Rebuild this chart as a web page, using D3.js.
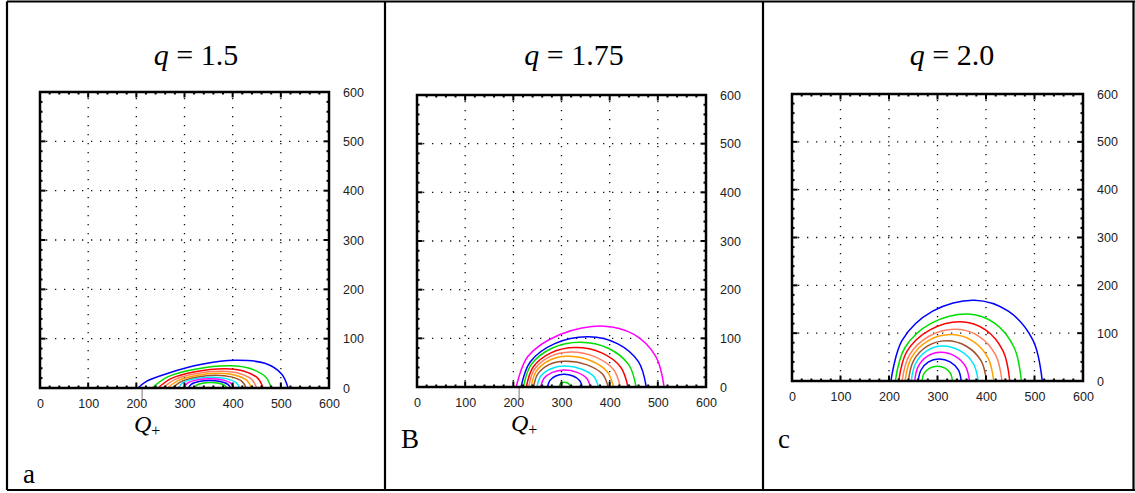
<!DOCTYPE html>
<html><head><meta charset="utf-8">
<script src="https://cdn.jsdelivr.net/npm/d3@7"></script>
<style>
body{margin:0;background:#fff;}
svg{display:block;}
</style></head><body>
<svg id="chart" width="1135" height="493"></svg>
<script>
// ---------- data ----------
const xTicks = [0, 100, 200, 300, 400, 500, 600];
const yTicks = [0, 100, 200, 300, 400, 500, 600];
const minorStep = 20;
const gridValues = [100, 200, 300, 400, 500];
const panelTitles = ["1.5", "1.75", "2.0"];
const panelLetters = ["a", "B", "c"];
const leaderValue = 212;

const colorsA = ["blue","green","red","salmon","orange","brown","cyan","magenta","blue","green"];
const curvesA = [
  [[204,0],[220,13],[266,30],[336,48],[405,56],[467,50],[502,28],[515,0]],
  [[233,0],[265,22.5],[322,38],[395,45],[437.5,39],[468.6,22.5],[480,0]],
  [[245,0],[273,19.5],[322,33],[385,39],[424,34],[452.5,19.5],[463,0]],
  [[255,0],[279.6,17],[322.7,29],[378,34],[414,29.5],[440,17],[450,0]],
  [[265,0],[286.4,15],[324,25.5],[372,30],[405.5,26],[430,15],[439,0]],
  [[275,0],[293,13],[325,22],[366,26],[397,22.5],[419.7,13],[428,0]],
  [[287,0],[296.5,11],[322.5,19],[358,22],[386.5,19],[407,11],[415,0]],
  [[298,0],[305.5,9.5],[326,16.5],[354,19],[378.5,16.5],[396.4,9.5],[403,0]],
  [[308,0],[314,7.5],[330,13],[352,15],[374,13],[390,7.5],[396,0]],
  [[320,0],[324.6,5.5],[337,9.5],[354,11],[371,9.5],[383.4,5.5],[388,0]]
];

const colorsB = ["magenta","blue","green","red","salmon","orange","brown","cyan","magenta","blue","green"];
const curvesB = [
  [[206,0],[230,62.5],[297,108],[388,125],[450.5,108],[496,62.5],[513,0]],
  [[216,0],[235,51.5],[286,89],[356,103],[416,89],[460,51.5],[476,0]],
  [[221,0],[237,46],[280,79.7],[339,92],[397,79.7],[439.5,46],[455,0]],
  [[227,0],[241,40.5],[278,70],[329,81],[383.5,70],[423,40.5],[438,0]],
  [[232,0],[243.5,36],[275,62],[318,72],[370,62],[408,36],[422,0]],
  [[237,0],[247,31.5],[274,54.5],[311,63],[359.5,54.5],[395,31.5],[408,0]],
  [[242,0],[250.6,26.5],[274,46],[306,53],[351.5,46],[385,26.5],[397,0]],
  [[249,0],[256.5,21.5],[277,37],[305,43],[341,37],[367,21.5],[377,0]],
  [[257,0],[263.4,17.5],[281,30],[305,35],[332.5,30],[352.6,17.5],[360,0]],
  [[271,0],[275.6,13],[288,22.5],[305,26],[324,22.5],[338,13],[343,0]],
  [[295,0],[296.5,5],[300.5,8.7],[306,10],[312,8.7],[316.4,5],[318,0]]
];

const colorsC = ["blue","green","red","salmon","orange","brown","cyan","magenta","blue","green"];
const curvesC = [
  [[204,0],[227,85],[290,146],[376,169],[446,146],[497,85],[516,0]],
  [[213,0],[233,70],[287.5,121],[362,140],[417.5,121],[458,70],[473,0]],
  [[220,0],[237,62],[284.5,107],[349,124],[399,107],[435.6,62],[449,0]],
  [[227,0],[242,54],[282.5,93.5],[338,108],[385.5,93.5],[420,54],[433,0]],
  [[233,0],[246,48.5],[280.5,84],[328,97],[372,84],[404,48.5],[416,0]],
  [[240,0],[250.5,42],[279,72.7],[318,84],[359.5,72.7],[390,42],[401,0]],
  [[246,0],[254.6,36.5],[278,63],[310,73],[347,63],[374,36.5],[384,0]],
  [[253,0],[260,30],[279.5,52],[306,60],[336,52],[358,30],[366,0]],
  [[260,0],[266,23],[281.5,40],[303,46],[326,40],[343,23],[349,0]],
  [[268,0],[272,15.5],[284,27],[300,31],[315.5,27],[327,15.5],[331,0]]
];

// ---------- styling / layout ----------
const palette = {
  blue:"#0000ff", green:"#00dd00", red:"#ff0000", salmon:"#ff8060",
  orange:"#ffa000", brown:"#a0522d", cyan:"#00e8ff", magenta:"#ff00ff"
};

const panels = [
  {box:[40,329,92,388],  cx:196, letter:[23,483], qlabel:true,  curves:curvesA, colors:colorsA, title:panelTitles[0], letterText:panelLetters[0]},
  {box:[417,706,95,387], cx:574, letter:[401,448], qlabel:true,  curves:curvesB, colors:colorsB, title:panelTitles[1], letterText:panelLetters[1]},
  {box:[792,1083,94,381],cx:952, letter:[778,448], qlabel:false, curves:curvesC, colors:colorsC, title:panelTitles[2], letterText:panelLetters[2]}
];

const svg = d3.select("#chart");

// outer frame
const frame = svg.append("g").attr("stroke","#000").attr("stroke-width",2.2);
frame.append("line").attr("x1",7).attr("x2",1135).attr("y1",1.5).attr("y2",1.5);
frame.append("line").attr("x1",7).attr("x2",1135).attr("y1",490).attr("y2",490);
frame.append("line").attr("x1",7).attr("x2",7).attr("y1",1.5).attr("y2",490);
frame.append("line").attr("x1",385).attr("x2",385).attr("y1",1.5).attr("y2",490);
frame.append("line").attr("x1",763).attr("x2",763).attr("y1",1.5).attr("y2",490);
frame.append("line").attr("x1",1133.5).attr("x2",1133.5).attr("y1",1.5).attr("y2",490);

const minorVals = d3.range(0, 601, minorStep);

panels.forEach(p => {
  const [L, R, T, B] = p.box;
  const x = d3.scaleLinear().domain([0, 600]).range([L, R]);
  const y = d3.scaleLinear().domain([0, 600]).range([B, T]);
  const g = svg.append("g");

  // dotted grid
  const grid = g.append("g").attr("stroke","#111").attr("stroke-width",1.3)
    .attr("stroke-dasharray","1.3,7.7");
  grid.selectAll(".gx").data(gridValues).join("line")
    .attr("x1", d => x(d)).attr("x2", d => x(d)).attr("y1", T + 6).attr("y2", B);
  grid.selectAll(".gy").data(gridValues).join("line")
    .attr("y1", d => y(d)).attr("y2", d => y(d)).attr("x1", L + 6).attr("x2", R);

  // curves
  const line = d3.line().x(d => x(d[0])).y(d => y(d[1])).curve(d3.curveCatmullRom.alpha(0.5));
  g.append("g").selectAll("path").data(p.curves).join("path")
    .attr("d", line).attr("fill","none")
    .attr("stroke", (d,i) => palette[p.colors[i]]).attr("stroke-width",1.5);

  // leader line below axis
  if (p.qlabel) {
    g.append("line").attr("x1", x(leaderValue)).attr("x2", x(leaderValue))
      .attr("y1", B).attr("y2", B + 12).attr("stroke","#777").attr("stroke-width",1);
  }

  // ticks on all four sides (inward)
  const tk = g.append("g").attr("stroke","#000").attr("stroke-width",2);
  const len = v => (v % 100 === 0 ? 5.5 : 2.5);
  tk.selectAll(".tb").data(minorVals).join("line")
    .attr("x1", d => x(d)).attr("x2", d => x(d)).attr("y1", B).attr("y2", d => B - len(d));
  tk.selectAll(".tt").data(minorVals).join("line")
    .attr("x1", d => x(d)).attr("x2", d => x(d)).attr("y1", T).attr("y2", d => T + len(d));
  tk.selectAll(".tl").data(minorVals).join("line")
    .attr("y1", d => y(d)).attr("y2", d => y(d)).attr("x1", L).attr("x2", d => L + len(d));
  tk.selectAll(".tr").data(minorVals).join("line")
    .attr("y1", d => y(d)).attr("y2", d => y(d)).attr("x1", R).attr("x2", d => R - len(d));

  // box
  g.append("rect").attr("x", L).attr("y", T).attr("width", R - L).attr("height", B - T)
    .attr("fill","none").attr("stroke","#000").attr("stroke-width",2.5);

  // axis labels
  const ax = g.append("g").attr("transform", `translate(0,${B})`)
    .call(d3.axisBottom(x).tickValues(xTicks).tickSize(0).tickPadding(11).tickFormat(d3.format("d")));
  const ay = g.append("g").attr("transform", `translate(${R},0)`)
    .call(d3.axisRight(y).tickValues(yTicks).tickSize(0).tickPadding(14).tickFormat(d3.format("d")));
  [ax, ay].forEach(a => {
    a.select(".domain").remove();
    a.selectAll("text").attr("font-family","Liberation Sans, Arial, sans-serif")
      .attr("font-size", 12.5).attr("fill","#222");
  });

  // title
  const t = g.append("text").attr("x", p.cx).attr("y", 65).attr("text-anchor","middle")
    .attr("font-family","Liberation Serif, Times New Roman, serif").attr("font-size",30);
  t.append("tspan").attr("font-style","italic").text("q");
  t.append("tspan").text(" = " + p.title);

  // Q+ label
  if (p.qlabel) {
    const q = g.append("text").attr("x", L + 94).attr("y", B + 44)
      .attr("font-family","Liberation Serif, Times New Roman, serif").attr("font-size",24);
    q.append("tspan").attr("font-style","italic").text("Q");
    q.append("tspan").attr("font-size",16).attr("dy",4).text("+");
  }

  // panel letter
  g.append("text").attr("x", p.letter[0]).attr("y", p.letter[1])
    .attr("font-family","Liberation Serif, Times New Roman, serif").attr("font-size",27)
    .text(p.letterText);
});
</script>
</body></html>
